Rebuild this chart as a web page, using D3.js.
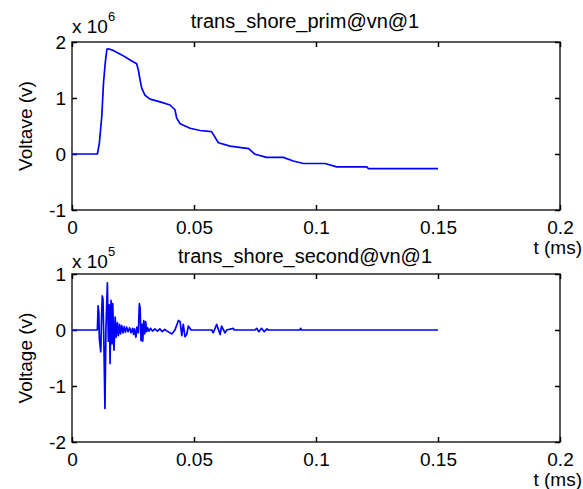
<!DOCTYPE html>
<html>
<head>
<meta charset="utf-8">
<script src="https://cdn.jsdelivr.net/npm/d3@7"></script>
<style>
  body { margin: 0; background: #fff; }
  svg { display: block; font-family: "Liberation Sans", Arial, sans-serif; }
  .tick text { font-size: 19px; fill: #000; }
  .tick line { stroke: #000; }
</style>
</head>
<body>
<div id="chart"></div>
<script>
// values (voltage in units of the axis multiplier)
const primT = [0, 0.0104, 0.0112, 0.0122, 0.0129, 0.0136, 0.0143, 0.0148, 0.0169, 0.0204, 0.0238, 0.0265,
  0.0272, 0.0279, 0.0286, 0.0299, 0.032, 0.0361, 0.0402, 0.0422, 0.0429, 0.0443, 0.0484, 0.0525, 0.0572,
  0.06, 0.0648, 0.0716, 0.0723, 0.075, 0.0798, 0.0866, 0.0907, 0.0948, 0.1037, 0.1085, 0.1208, 0.1214, 0.15]
const primV = [0, 0, 0.19, 0.67, 1.26, 1.62, 1.87, 1.88, 1.85, 1.77, 1.68, 1.61,
  1.5, 1.32, 1.17, 1.05, 0.98, 0.93, 0.875, 0.79, 0.64, 0.54, 0.46, 0.42, 0.40,
  0.20, 0.14, 0.10, 0.10, -0.005, -0.06, -0.06, -0.125, -0.17, -0.17, -0.23, -0.23, -0.26, -0.26]

const secT = [0, 0.0104, 0.0107, 0.011, 0.0112, 0.0118, 0.0121, 0.0124, 0.0127, 0.0131, 0.0135, 0.0139,
  0.0145, 0.0149, 0.0153, 0.0156, 0.016, 0.0164, 0.0167, 0.0172, 0.0177, 0.0181, 0.0186, 0.019, 0.0195,
  0.0199, 0.0204, 0.0209, 0.0214, 0.0219, 0.0224, 0.023, 0.0236, 0.0242, 0.0248, 0.0252, 0.0256, 0.0262,
  0.0266, 0.0272, 0.0276, 0.0279, 0.0283, 0.0287, 0.029, 0.0294, 0.0298, 0.0302, 0.0306, 0.031, 0.0316,
  0.0322, 0.033, 0.034, 0.035, 0.036, 0.037, 0.038, 0.039, 0.0409, 0.0422, 0.0436, 0.0443, 0.045, 0.0456,
  0.0463, 0.047, 0.0477, 0.0488, 0.0573, 0.0579, 0.0593, 0.0607, 0.0613, 0.0627, 0.0634, 0.0661, 0.0665,
  0.075, 0.0757, 0.0766, 0.0777, 0.0788, 0.0799, 0.0805, 0.0933, 0.0937, 0.0941, 0.15]
const secV = [0, 0, 0.43, 0.30, -0.15, -0.39, 0.20, 0.61, 0.55, -0.3, -1.40, 0.0,
  0.84, -0.2, 0.45, -0.60, 0.53, -0.25, 0.47, -0.36, 0.23, -0.13, 0.13, -0.10, 0.10,
  -0.07, 0.08, -0.05, 0.06, -0.04, 0.05, -0.03, 0.04, -0.05, 0.03, -0.08, 0.02, -0.13,
  0.05, -0.05, 0.47, 0.40, -0.19, 0.10, -0.20, 0.17, -0.07, 0.15, -0.03, 0.04, -0.02,
  0.03, -0.02, 0.02, -0.02, 0.02, -0.03, 0.01, -0.02, -0.07, 0.0, 0.17, 0.15, -0.10, 0.10,
  -0.12, -0.08, 0.07, 0, 0, -0.05, 0.10, -0.08, 0.07, -0.05, 0, 0.03, 0,
  0, 0.03, -0.03, 0.03, -0.03, 0.02, 0, 0, 0.03, 0, 0]

const xTicks = [0, 0.05, 0.1, 0.15, 0.2]
const primTicks = [2, 1, 0, -1]
const secTicks = [1, 0, -1, -2]

const width = 583, height = 489

const svg = d3.select("#chart").append("svg")
    .attr("width", width)
    .attr("height", height)

function panel(opts){
    const left = 72, right = 560
    const top = opts.top, bottom = opts.top + 168

    const x = d3.scaleLinear().domain([0, 0.2]).range([left, right])
    const y = d3.scaleLinear().domain(opts.domain).range([bottom, top])

    const g = svg.append("g")

    // box
    g.append("rect")
        .attr("x", left).attr("y", top)
        .attr("width", right - left).attr("height", bottom - top)
        .attr("fill", "none")
        .attr("stroke", "#333")
        .attr("stroke-width", 1.6)

    // ticks pointing inward on all four sides
    g.append("g")
        .attr("transform", `translate(0,${bottom})`)
        .call(d3.axisBottom(x).tickValues(xTicks).tickSizeInner(-5).tickSizeOuter(0)
            .tickPadding(11).tickFormat(d => String(d)))
        .call(a => a.select(".domain").remove())
    g.append("g")
        .attr("transform", `translate(0,${top})`)
        .call(d3.axisTop(x).tickValues(xTicks).tickSizeInner(-5).tickSizeOuter(0).tickFormat(""))
        .call(a => a.select(".domain").remove())
    g.append("g")
        .attr("transform", `translate(${left},0)`)
        .call(d3.axisLeft(y).tickValues(opts.ticks).tickSizeInner(-5).tickSizeOuter(0)
            .tickPadding(6).tickFormat(d => String(d)))
        .call(a => a.select(".domain").remove())
    g.append("g")
        .attr("transform", `translate(${right},0)`)
        .call(d3.axisRight(y).tickValues(opts.ticks).tickSizeInner(-5).tickSizeOuter(0).tickFormat(""))
        .call(a => a.select(".domain").remove())
    g.selectAll(".tick line").attr("stroke-width", 1.5)

    // trace
    const line = d3.line().x(d => x(d[0])).y(d => y(d[1]))
    g.append("path")
        .datum(d3.zip(opts.t, opts.v))
        .attr("fill", "none")
        .attr("stroke", "#0000ff")
        .attr("stroke-width", 1.7)
        .attr("stroke-linejoin", "round")
        .attr("d", line)

    // title and exponent
    g.append("text")
        .attr("x", 305).attr("y", opts.titleY)
        .attr("text-anchor", "middle")
        .attr("font-size", 20)
        .text(opts.title)
    const ex = g.append("text")
        .attr("x", left).attr("y", opts.titleY + 5)
        .attr("font-size", 19)
        .text("x 10")
    ex.append("tspan")
        .attr("dy", -12)
        .attr("font-size", 13)
        .text(opts.exp)

    // axis labels
    g.append("text")
        .attr("transform", `translate(32,${opts.labelY}) rotate(-90)`)
        .attr("text-anchor", "middle")
        .attr("font-size", 19)
        .text(opts.ylabel)
    g.append("text")
        .attr("x", 582).attr("y", bottom + 44)
        .attr("text-anchor", "end")
        .attr("font-size", 19)
        .text("t (ms)")
}

panel({top: 42, domain: [-1, 2], ticks: primTicks, t: primT, v: primV, titleY: 28,
    title: "trans_shore_prim@vn@1", exp: "6", ylabel: "Voltave (v)", labelY: 126})
panel({top: 274, domain: [-2, 1], ticks: secTicks, t: secT, v: secV, titleY: 263,
    title: "trans_shore_second@vn@1", exp: "5", ylabel: "Voltage (v)", labelY: 358})
</script>
</body>
</html>
